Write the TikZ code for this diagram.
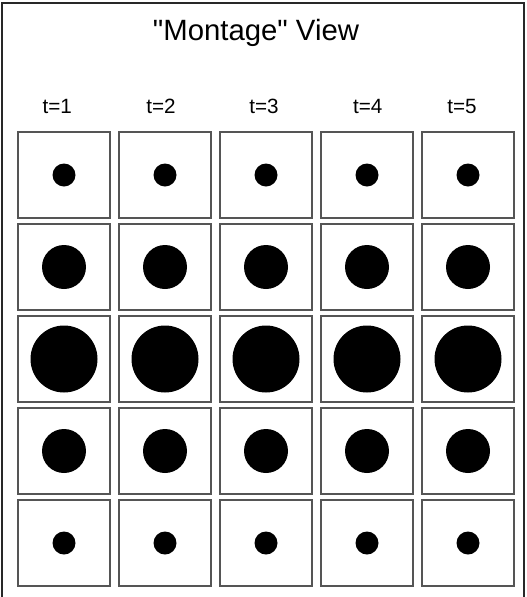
\documentclass[tikz,border=0pt]{standalone}
\usepackage{fontspec}
\setmainfont{Liberation Sans}[Ligatures=TeXOff]
\usetikzlibrary{positioning}
\definecolor{frameGray}{RGB}{40,40,40}
\definecolor{cellGray}{RGB}{85,85,85}

\begin{document}
\begin{tikzpicture}[x=0.75pt, y=-0.75pt,
  cell/.style={draw=cellGray, line width=1.4pt, minimum width=69pt, minimum height=64.5pt, inner sep=0pt},
  blob/.style={circle, fill=black, inner sep=0pt, minimum size=#1},
  tlabel/.style={font=\fontsize{15.5}{18}\selectfont}]
  \useasboundingbox (0,0) rectangle (527,597);
  % outer frame, open at the bottom
  \coordinate (fbl) at (2,597);
  \coordinate (ftl) at (2,3);
  \coordinate (ftr) at (524,3);
  \coordinate (fbr) at (524,597);
  \draw[frameGray, line width=1.6pt] (fbl) -- (ftl) -- (ftr) -- (fbr);
  \node[font=\fontsize{22}{26}\selectfont] (title) at (256,33) {"Montage" View};

  % grid of frames, one row per size
  \foreach \row/\dia in {1/17.25pt, 2/33pt, 3/50.25pt, 4/33pt, 5/17.25pt} {
    \foreach \col in {1,...,5} {
      \node[cell] (c\row\col) at ({64+101*(\col-1)}, {175+92*(\row-1)}) {};
      \node[blob=\dia] (d\row\col) at (c\row\col) {};
    }
  }
  % time labels
  \foreach \col/\dx in {1/-5pt, 2/-3pt, 3/-1.5pt, 4/0.5pt, 5/-4.5pt}
    \node[tlabel, above=9.5pt of c1\col, xshift=\dx] (t\col) {t=\col};
\end{tikzpicture}
\end{document}
